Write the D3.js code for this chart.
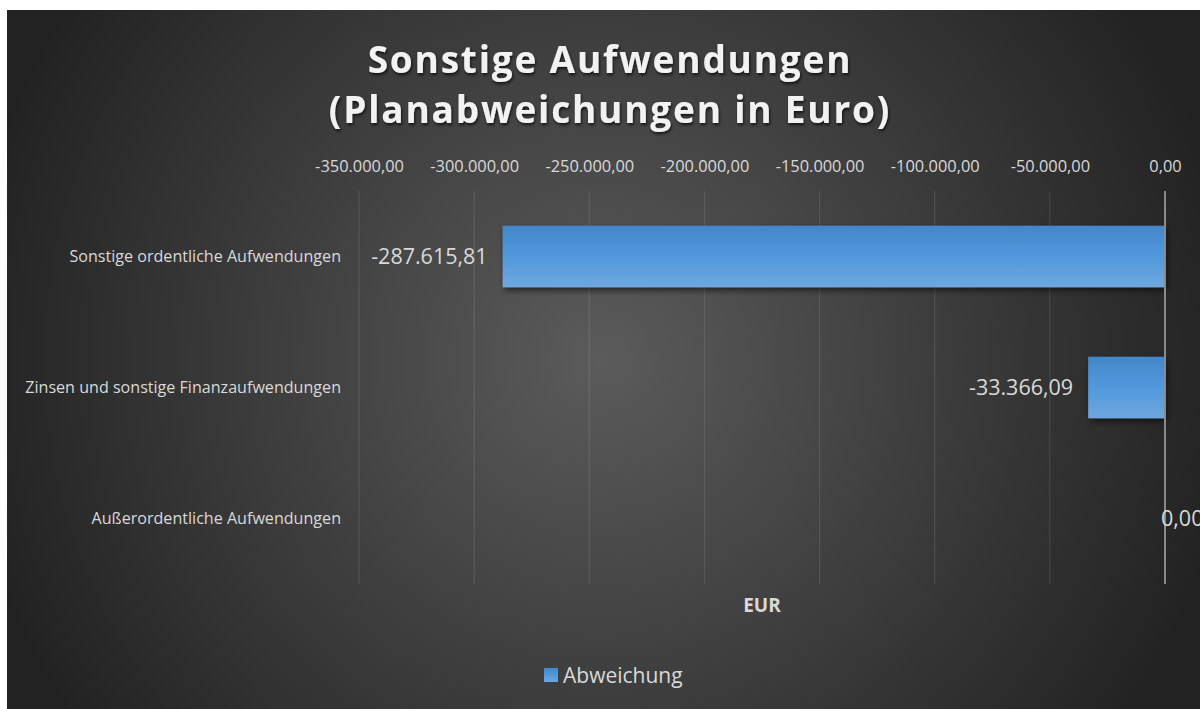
<!DOCTYPE html>
<html>
<head>
<meta charset="utf-8">
<script src="https://cdn.jsdelivr.net/npm/d3@7/dist/d3.min.js"></script>
<style>
  html, body { margin: 0; padding: 0; background: #ffffff; }
  svg { display: block; }
</style>
</head>
<body>
<svg id="chart" width="1200" height="709"></svg>
<script>
// ---- data ----
const titleLines = ["Sonstige Aufwendungen", "(Planabweichungen in Euro)"];
const categories = [
  "Sonstige ordentliche Aufwendungen",
  "Zinsen und sonstige Finanzaufwendungen",
  "Außerordentliche Aufwendungen"
];
const values = [-287615.81, -33366.09, 0.00];
const valueLabels = ["-287.615,81", "-33.366,09", "0,00"];
const tickValues = [-350000, -300000, -250000, -200000, -150000, -100000, -50000, 0];
const tickLabels = ["-350.000,00", "-300.000,00", "-250.000,00", "-200.000,00", "-150.000,00", "-100.000,00", "-50.000,00", "0,00"];
const seriesName = "Abweichung";
const axisTitle = "EUR";

// ---- layout ----
const W = 1200, H = 709;
const bgX = 7, bgY = 10;
const plot = { left: 359, right: 1165, top: 191, bottom: 584 };
const FONT = "'Open Sans', 'Noto Sans', sans-serif";

const svg = d3.select("#chart");
const defs = svg.append("defs");

const bgGrad = defs.append("radialGradient").attr("id", "bgGrad")
  .attr("gradientUnits", "userSpaceOnUse")
  .attr("cx", 600).attr("cy", 360).attr("r", 640);
bgGrad.append("stop").attr("offset", "0%").attr("stop-color", "#5b5b5b");
bgGrad.append("stop").attr("offset", "100%").attr("stop-color", "#222222");

const barGrad = defs.append("linearGradient").attr("id", "barGrad")
  .attr("x1", 0).attr("y1", 0).attr("x2", 0).attr("y2", 1);
barGrad.append("stop").attr("offset", "0%").attr("stop-color", "#4287ca");
barGrad.append("stop").attr("offset", "50%").attr("stop-color", "#5199dc");
barGrad.append("stop").attr("offset", "100%").attr("stop-color", "#6fa7de");

const shadow = defs.append("filter").attr("id", "barShadow")
  .attr("x", "-10%").attr("y", "-20%").attr("width", "130%").attr("height", "160%");
shadow.append("feDropShadow").attr("dx", 2).attr("dy", 3).attr("stdDeviation", 3)
  .attr("flood-color", "#000").attr("flood-opacity", 0.6);

const textShadow = defs.append("filter").attr("id", "textShadow")
  .attr("x", "-10%").attr("y", "-30%").attr("width", "120%").attr("height", "160%");
textShadow.append("feDropShadow").attr("dx", 1).attr("dy", 2).attr("stdDeviation", 1.5)
  .attr("flood-color", "#000").attr("flood-opacity", 0.7);

// background
svg.append("rect").attr("x", bgX).attr("y", bgY)
  .attr("width", W - bgX).attr("height", H - bgY)
  .attr("fill", "url(#bgGrad)");

// scales
const x = d3.scaleLinear().domain([-350000, 0]).range([plot.left, plot.right]);
const y = d3.scaleBand().domain(categories).range([plot.top, plot.bottom])
  .paddingInner(0.53).paddingOuter(0.265);

// title
const title = svg.append("text")
  .attr("text-anchor", "middle")
  .attr("font-family", FONT).attr("font-weight", 700)
  .attr("font-size", 37).attr("letter-spacing", 1.8)
  .attr("fill", "#f2f2f2")
  .attr("filter", "url(#textShadow)");
titleLines.forEach((t, i) => {
  title.append("tspan").attr("x", 610).attr("y", 73 + i * 50).text(t);
});

// gridlines
svg.append("g").selectAll("line").data(tickValues.filter(d => d !== 0)).join("line")
  .attr("x1", d => x(d)).attr("x2", d => x(d))
  .attr("y1", plot.top).attr("y2", plot.bottom)
  .attr("stroke", "rgba(255,255,255,0.1)").attr("stroke-width", 1.2);

// top axis
const xAxis = d3.axisTop(x).tickValues(tickValues)
  .tickFormat((d, i) => tickLabels[i]).tickSize(0).tickPadding(0);
const gx = svg.append("g").attr("transform", `translate(0,${172})`).call(xAxis);
gx.select(".domain").remove();
gx.selectAll("text")
  .attr("font-family", FONT).attr("font-size", 16.4)
  .attr("fill", "#d9d9d9").attr("dy", 0);

// category axis labels
const yAxis = d3.axisLeft(y).tickSize(0).tickPadding(0);
const gy = svg.append("g").attr("transform", `translate(${341},0)`).call(yAxis);
gy.select(".domain").remove();
gy.selectAll("text")
  .attr("font-family", FONT).attr("font-size", 16.1)
  .attr("fill", "#d9d9d9").attr("dy", "0.32em");

// bars
svg.append("g").selectAll("rect").data(values).join("rect")
  .attr("x", d => x(Math.min(d, 0)))
  .attr("width", d => Math.abs(x(d) - x(0)))
  .attr("y", (d, i) => y(categories[i]))
  .attr("height", y.bandwidth())
  .attr("fill", "url(#barGrad)")
  .attr("filter", d => d === 0 ? null : "url(#barShadow)");

// zero line
svg.append("line")
  .attr("x1", x(0)).attr("x2", x(0))
  .attr("y1", plot.top).attr("y2", plot.bottom)
  .attr("stroke", "#8a8a8a").attr("stroke-width", 2);

// data labels
svg.append("g").selectAll("text").data(values).join("text")
  .attr("x", d => d < 0 ? x(d) - 15 : x(d) - 4)
  .attr("y", (d, i) => y(categories[i]) + y.bandwidth() / 2)
  .attr("dy", "0.35em")
  .attr("text-anchor", d => d < 0 ? "end" : "start")
  .attr("font-family", FONT).attr("font-size", 21.5)
  .attr("fill", "#d9d9d9")
  .text((d, i) => valueLabels[i]);

// axis title
svg.append("text")
  .attr("x", (plot.left + plot.right) / 2).attr("y", 612)
  .attr("text-anchor", "middle")
  .attr("font-family", FONT).attr("font-weight", 700).attr("font-size", 19)
  .attr("fill", "#d9d9d9").text(axisTitle);

// legend
const lg = svg.append("g");
lg.append("rect").attr("x", 544).attr("y", 668).attr("width", 14).attr("height", 14)
  .attr("fill", "url(#barGrad)");
lg.append("text").attr("x", 563).attr("y", 683)
  .attr("font-family", FONT).attr("font-size", 21)
  .attr("fill", "#d9d9d9").text(seriesName);
</script>
</body>
</html>
